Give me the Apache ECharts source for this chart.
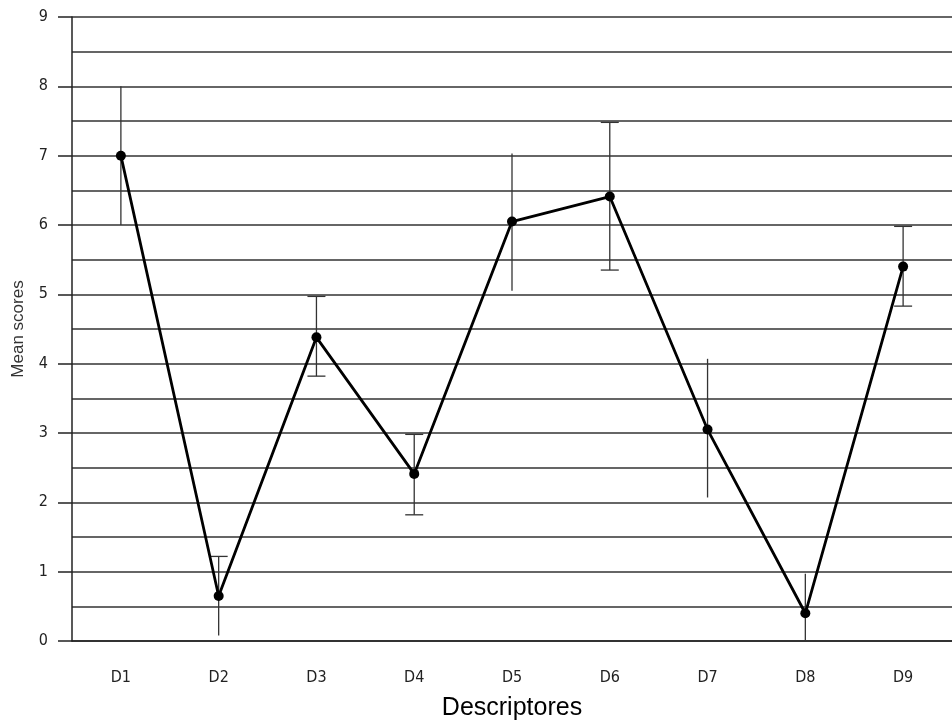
<!DOCTYPE html>
<html>
<head>
<meta charset="utf-8">
<script src="https://cdn.jsdelivr.net/npm/echarts@6/dist/echarts.min.js"></script>
<style>html,body{margin:0;padding:0;background:#fff;}#c{width:952px;height:726px;}</style>
</head>
<body>
<div id="c"></div>
<script>
var categories = ['D1','D2','D3','D4','D5','D6','D7','D8','D9'];
var means = [7.0, 0.65, 4.38, 2.41, 6.05, 6.41, 3.05, 0.40, 5.40];
var errLow = [6.0, 0.08, 3.82, 1.82, 5.05, 5.35, 2.07, 0.0, 4.83];
var errHigh = [8.0, 1.22, 4.97, 2.98, 7.03, 7.48, 4.07, 0.97, 5.98];
var capLow = [false, false, true, true, false, true, false, false, true];
var capHigh = [false, true, true, true, false, true, false, false, true];
var yTicks = [0,1,2,3,4,5,6,7,8,9];

var errData = categories.map(function(c, i){ return [i, errLow[i], errHigh[i], capLow[i] ? 1 : 0, capHigh[i] ? 1 : 0]; });

var chart = echarts.init(document.getElementById('c'));
var tickFont = '"Liberation Sans Narrow", "DejaVu Sans Condensed", sans-serif';
chart.setOption({
  animation: false,
  backgroundColor: '#fff',
  grid: {left: 72, right: -5, top: 17, bottom: 84},
  xAxis: {
    type: 'category',
    data: categories,
    boundaryGap: true,
    name: 'Descriptores',
    nameLocation: 'middle',
    nameGap: 55,
    nameTextStyle: {fontFamily: '"Liberation Sans", Arial, sans-serif', fontSize: 25, color: '#000'},
    axisLine: {lineStyle: {color: '#222', width: 1.5}},
    axisTick: {alignWithLabel: true, length: 15, lineStyle: {color: '#222', width: 1.5}},
    axisLabel: {margin: 29, fontFamily: tickFont, fontSize: 16, color: '#222'},
    splitLine: {show: false}
  },
  yAxis: {
    type: 'value',
    min: 0, max: 9, interval: 1,
    name: 'Mean scores',
    nameLocation: 'middle',
    nameGap: 45,
    nameRotate: 90,
    nameTextStyle: {fontFamily: '"Liberation Sans", Arial, sans-serif', fontSize: 17, color: '#333'},
    axisLine: {show: true, lineStyle: {color: '#222', width: 1.5}},
    axisTick: {show: true, length: 14, lineStyle: {color: '#222', width: 1.5}},
    axisLabel: {margin: 24, fontFamily: tickFont, fontSize: 16, color: '#222',
      formatter: function(v){ return yTicks.indexOf(v) >= 0 ? String(v) : ''; }},
    splitLine: {show: true, lineStyle: {color: '#333', width: 1.5}},
    minorTick: {show: false, splitNumber: 2},
    minorSplitLine: {show: true, lineStyle: {color: '#333', width: 1.5}}
  },
  series: [
    {
      type: 'custom',
      data: errData,
      z: 3,
      renderItem: function(params, api){
        var x = api.value(0);
        var lo = api.coord([x, api.value(1)]);
        var hi = api.coord([x, api.value(2)]);
        var capW = 9;
        var style = {stroke: '#333', lineWidth: 1.3};
        var children = [{type: 'line', shape: {x1: lo[0], y1: lo[1], x2: hi[0], y2: hi[1]}, style: style}];
        if (api.value(3)) children.push({type: 'line', shape: {x1: lo[0]-capW, y1: lo[1], x2: lo[0]+capW, y2: lo[1]}, style: style});
        if (api.value(4)) children.push({type: 'line', shape: {x1: hi[0]-capW, y1: hi[1], x2: hi[0]+capW, y2: hi[1]}, style: style});
        return {type: 'group', children: children};
      }
    },
    {
      type: 'line',
      data: means,
      z: 4,
      symbol: 'circle',
      symbolSize: 10,
      itemStyle: {color: '#000'},
      lineStyle: {color: '#000', width: 2.8}
    }
  ]
});
</script>
</body>
</html>
